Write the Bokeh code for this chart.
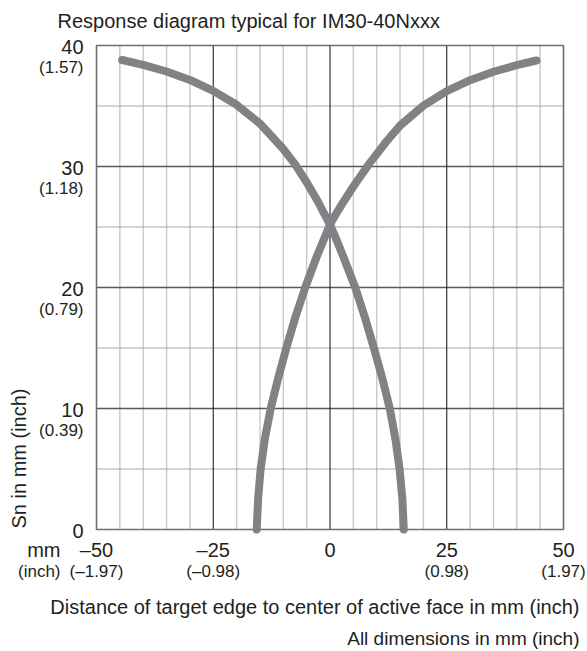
import math
from bokeh.plotting import figure
from bokeh.models import Range1d
from bokeh.core.properties import value
from bokeh.embed import file_html
from bokeh.resources import INLINE

# ---- data ----
title_text = "Response diagram typical for IM30-40Nxxx"
x_title = "Distance of target edge to center of active face in mm (inch)"
y_title = "Sn in mm (inch)"
footnote = "All dimensions in mm (inch)"

x_ticks = [-50, -25, 0, 25, 50]
x_tick_mm = ["\u201350", "\u201325", "0", "25", "50"]
x_tick_inch = ["(\u20131.97)", "(\u20130.98)", "", "(0.98)", "(1.97)"]
x_unit_mm = "mm"
x_unit_inch = "(inch)"

y_ticks = [0, 10, 20, 30, 40]
y_tick_mm = ["0", "10", "20", "30", "40"]
y_tick_inch = ["", "(0.39)", "(0.79)", "(1.18)", "(1.57)"]

# curve falling to the right (starts upper left)
curve_a_x = [-44.5, -40, -35, -30, -25, -20, -15, -10, -7.5, -5, -2.5, -1.25, 0,
             1.5, 2.9, 5.4, 7.5, 9.4, 11.2, 12.8, 14.0, 14.9, 15.5, 15.8]
curve_a_y = [38.8, 38.4, 37.85, 37.15, 36.25, 35.1, 33.55, 31.45, 30.2, 28.7, 27.05, 26.1, 25.2,
             23.85, 22.5, 20.0, 17.5, 15.0, 12.5, 10.0, 7.5, 5.0, 2.5, 0.0]

# curve rising to the right (starts lower left)
curve_b_x = [-15.7, -15.4, -14.85, -13.95, -12.7, -11.1, -9.35, -7.45, -5.3, -2.9, -1.45, 0,
             1.25, 2.5, 5, 8.5, 12, 15, 20, 25, 30, 35, 40, 44.2]
curve_b_y = [0.0, 2.5, 5.0, 7.5, 10.0, 12.5, 15.0, 17.5, 20.0, 22.5, 23.85, 25.2,
             26.05, 26.85, 28.35, 30.28, 32.03, 33.38, 35.03, 36.23, 37.13, 37.83, 38.38, 38.76]

x_major = [-25, 0, 25]
x_minor = [-45, -40, -35, -30, -20, -15, -10, -5, 5, 10, 15, 20, 30, 35, 40, 45]
y_major = [10, 20, 30]
y_minor = [5, 15, 25, 35]
x_lim = (-50, 50)
y_lim = (0, 40)

# ---- layout (pixels) ----
W, H = 587, 651
FL, FR, FT, FB = 96, 563, 45, 529      # plot box edges on the canvas
sx = (FR - FL) / (x_lim[1] - x_lim[0])
sy = (FB - FT) / (y_lim[1] - y_lim[0])
x_range = Range1d(x_lim[0] - FL / sx, x_lim[1] + (W - FR) / sx)
y_range = Range1d(y_lim[0] - (H - FB) / sy, y_lim[1] + FT / sy)

FONT = "Liberation Sans"
TXT = "#231f20"
CURVE = "#808285"

p = figure(width=W, height=H, output_backend="svg", toolbar_location=None,
           x_range=x_range, y_range=y_range,
           x_axis_location=None, y_axis_location=None,
           min_border=0, min_border_left=0, min_border_right=0,
           min_border_top=0, min_border_bottom=0)
p.background_fill_color = "white"
p.border_fill_color = "white"
p.outline_line_color = None
p.grid.visible = False

# grid
n = len(x_minor)
p.segment(x0=x_minor, y0=[y_lim[0]] * n, x1=x_minor, y1=[y_lim[1]] * n,
          line_color="#c7c8ca", line_width=1.4)
n = len(y_minor)
p.segment(x0=[x_lim[0]] * n, y0=y_minor, x1=[x_lim[1]] * n, y1=y_minor,
          line_color="#a7a9ac", line_width=1.1)
n = len(y_major)
p.segment(x0=[x_lim[0]] * n, y0=y_major, x1=[x_lim[1]] * n, y1=y_major,
          line_color="#58595b", line_width=1.3)
n = len(x_major)
p.segment(x0=x_major, y0=[y_lim[0]] * n, x1=x_major, y1=[y_lim[1]] * n,
          line_color="#231f20", line_width=1.1)
p.quad(left=[x_lim[0]], right=[x_lim[1]], bottom=[y_lim[0]], top=[y_lim[1]],
       fill_color=None, line_color="#6d6e71", line_width=1.6)

# curves
p.line(curve_a_x, curve_a_y, line_color=CURVE, line_width=8, line_cap="round", line_join="round")
p.line(curve_b_x, curve_b_y, line_color=CURVE, line_width=8, line_cap="round", line_join="round")

def txt(xs, ys, texts, xo, yo, size, align="center", angle=0.0):
    p.text(x=xs, y=ys, text=texts, x_offset=xo, y_offset=yo, angle=angle,
           text_font=value(FONT), text_font_size=f"{size}px", text_color=TXT,
           text_align=align, text_baseline="middle")

# title
txt([x_lim[0]], [y_lim[1]], [title_text], 57 - FL, 20 - FT, 20, align="left")

# y tick labels
txt([x_lim[0]] * len(y_ticks), y_ticks, y_tick_mm, 83 - FL, 1, 20, align="right")
yi = [(v, t) for v, t in zip(y_ticks, y_tick_inch) if t]
txt([x_lim[0]] * len(yi), [v for v, _ in yi], [t for _, t in yi], 83 - FL, 22, 17, align="right")

# x tick labels
txt(x_ticks, [y_lim[0]] * len(x_ticks), x_tick_mm, 0, 549 - FB, 20)
xi = [(v, t) for v, t in zip(x_ticks, x_tick_inch) if t]
txt([v for v, _ in xi], [y_lim[0]] * len(xi), [t for _, t in xi], 0, 571 - FB, 17)
txt([x_lim[0]], [y_lim[0]], [x_unit_mm], 60 - FL, 549 - FB, 20, align="right")
txt([x_lim[0]], [y_lim[0]], [x_unit_inch], 60 - FL, 571 - FB, 17, align="right")

# axis titles
txt([x_lim[1]], [y_lim[0]], [x_title], 579 - FR, 606 - FB, 20, align="right")
txt([x_lim[1]], [y_lim[0]], [footnote], 579 - FR, 638 - FB, 19, align="right")
txt([x_lim[0]], [y_lim[0]], [y_title], 18 - FL, 458 - FB, 20, align="center", angle=math.pi / 2)

open("out.html", "w").write(file_html(p, INLINE))
